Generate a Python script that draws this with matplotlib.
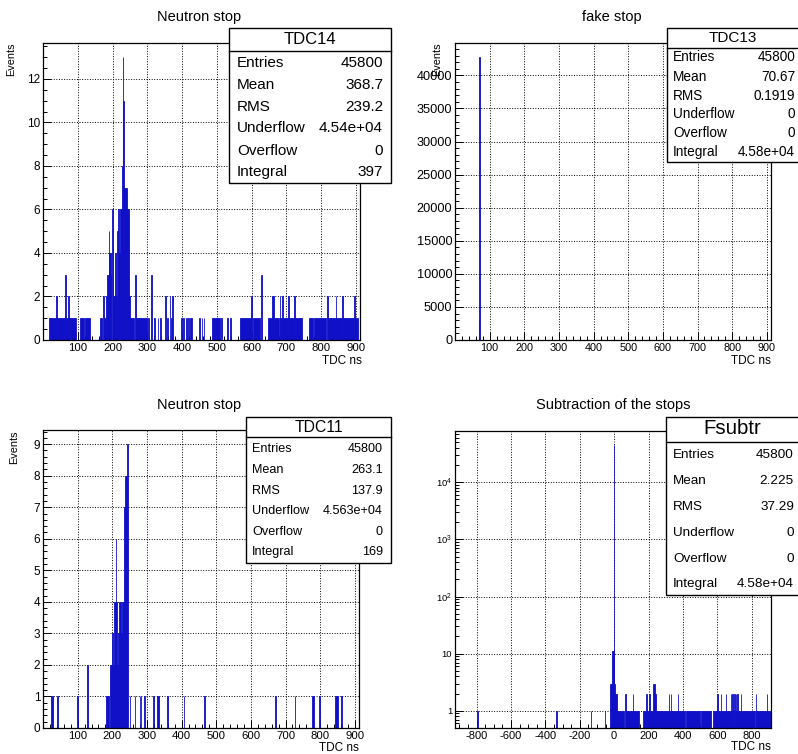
import numpy as np
import matplotlib.pyplot as plt
from matplotlib.patches import Rectangle
from matplotlib.lines import Line2D
from matplotlib.ticker import MultipleLocator, FixedLocator, LogLocator, NullFormatter

plt.rcParams['font.family'] = ['Liberation Sans', 'DejaVu Sans']
plt.rcParams['mathtext.fontset'] = 'custom'
plt.rcParams['mathtext.rm'] = 'Liberation Sans'
plt.rcParams['axes.unicode_minus'] = False

W, H = 798, 754
BLUE = '#1010c8'

# ---- data: histogram segments (left edge ns, right edge ns, counts) ----
# TDC14, "Neutron stop"
tdc14_lo = [17, 38, 41, 63, 65, 72, 74, 106, 120, 164, 174, 176, 180, 185, 189, 191, 195,
            198, 202, 207, 211, 214, 217, 220, 222, 226, 229, 231, 233, 241, 246, 249, 264,
            268, 302, 312, 318, 330, 336, 352, 356, 364, 368, 372, 398, 404, 410, 418, 424,
            450, 456, 462, 486, 502, 512, 530, 538, 568, 599, 603, 627, 648, 660, 664, 681,
            683, 688, 690, 706, 708, 722, 724, 765, 780, 818, 820, 842, 844, 861, 863, 896, 898]
tdc14_hi = [36, 41, 62, 65, 72, 74, 95, 118, 136, 170, 176, 180, 185, 189, 191, 195, 197,
            202, 207, 211, 214, 217, 220, 222, 226, 229, 231, 233, 241, 246, 249, 262, 268,
            300, 304, 314, 322, 332, 340, 354, 360, 366, 370, 374, 400, 406, 414, 420, 428,
            452, 458, 464, 500, 510, 516, 532, 541, 598, 601, 625, 629, 660, 664, 680, 683,
            688, 690, 706, 708, 722, 724, 745, 778, 814, 820, 842, 844, 860, 863, 896, 898, 906]
tdc14_n = [1, 2, 1, 3, 1, 2, 1, 1, 1, 1, 2, 1, 2, 3, 5, 4, 3,
           6, 2, 4, 2, 5, 6, 4, 6, 8, 13, 11, 7, 6, 2, 1, 3,
           1, 1, 3, 1, 1, 1, 2, 1, 2, 1, 2, 1, 1, 1, 1, 1,
           1, 1, 1, 1, 1, 1, 1, 1, 1, 2, 1, 3, 1, 2, 1, 2,
           1, 2, 1, 2, 1, 2, 1, 1, 1, 2, 1, 2, 1, 2, 1, 2, 1]

# TDC13, "fake stop"
tdc13_lo = [69, 70]
tdc13_hi = [70, 71]
tdc13_n = [3050, 42750]

# TDC11, "Neutron stop"
tdc11_lo = [24, 40, 98, 128, 182, 194, 199, 202, 204, 210, 212, 214, 217, 219, 225, 229, 234,
            238, 241, 250, 265, 279, 282, 291, 318, 330, 359, 406, 465, 669, 726, 776, 797,
            844, 860]
tdc11_hi = [28, 42, 100, 130, 190, 199, 202, 204, 210, 212, 214, 217, 219, 225, 229, 234, 238,
            241, 246, 251, 266, 281, 284, 294, 319, 334, 360, 408, 467, 673, 728, 782, 799,
            850, 862]
tdc11_n = [1, 1, 1, 2, 1, 2, 3, 2, 4, 6, 4, 2, 3, 4, 3, 4, 7,
           8, 9, 1, 1, 1, 1, 1, 1, 1, 1, 1, 1, 1, 1, 1, 1,
           1, 1]

# Fsubtr, "Subtraction of the stops"
fsub_lo = [-796, -336, -136, -54, -24, -12, -1, 1, 8, 14, 66, 68, 110, 112, 168, 184, 192,
           202, 206, 226, 236, 240, 244, 304, 318, 320, 328, 330, 370, 372, 418, 452, 505,
           572, 600, 602, 620, 622, 648, 650, 678, 680, 688, 690, 698, 700, 706, 708, 716,
           718, 736, 738, 822, 824, 888, 890]
fsub_hi = [-792, -332, -134, -52, -12, -1, 1, 8, 14, 60, 68, 110, 112, 146, 184, 192, 202,
           206, 226, 236, 240, 244, 300, 318, 320, 328, 330, 370, 372, 410, 450, 500, 562,
           600, 602, 620, 622, 648, 650, 678, 680, 688, 690, 698, 700, 706, 708, 716, 718,
           736, 738, 820, 824, 888, 890, 912]
fsub_n = [1, 1, 1, 1, 3, 11, 45600, 3, 2, 1, 2, 1, 2, 1, 1, 2, 1,
          2, 1, 3, 1, 2, 1, 1, 2, 1, 2, 1, 2, 1, 1, 1, 1,
          1, 2, 1, 2, 1, 2, 1, 2, 1, 2, 1, 2, 1, 2, 1, 2,
          1, 2, 1, 2, 1, 2, 1]

stats14 = ['TDC14', ('Entries', '45800'), ('Mean', '368.7'), ('RMS', '239.2'),
           ('Underflow', '4.54e+04'), ('Overflow', '0'), ('Integral', '397')]
stats13 = ['TDC13', ('Entries', '45800'), ('Mean', '70.67'), ('RMS', '0.1919'),
           ('Underflow', '0'), ('Overflow', '0'), ('Integral', '4.58e+04')]
stats11 = ['TDC11', ('Entries', '45800'), ('Mean', '263.1'), ('RMS', '137.9'),
           ('Underflow', '4.563e+04'), ('Overflow', '0'), ('Integral', '169')]
statsfs = ['Fsubtr', ('Entries', '45800'), ('Mean', '2.225'), ('RMS', '37.29'),
           ('Underflow', '0'), ('Overflow', '0'), ('Integral', '4.58e+04')]

fig = plt.figure(figsize=(W / 100, H / 100), dpi=100)


def px_axes(x0, y0, x1, y1):
    return fig.add_axes([x0 / W, 1 - y1 / H, (x1 - x0) / W, (y1 - y0) / H])


def ftext(x, y, s, **kw):
    fig.text(x / W, 1 - y / H, s, **kw)


def draw_hist(ax, lo, hi, n, bottom=0):
    lo = np.array(lo, float)
    hi = np.array(hi, float)
    ax.bar(lo, np.array(n, float) - bottom, width=hi - lo, bottom=bottom, align='edge',
           color=BLUE, edgecolor=BLUE, linewidth=0.6)


def style(ax, xsize=8.2, ysize=8.5):
    ax.grid(True, which='major', linestyle=':', color='black', linewidth=0.7)
    ax.set_axisbelow(True)
    ax.tick_params(which='both', direction='in', pad=2, width=0.7)
    ax.tick_params(axis='x', labelsize=xsize)
    ax.tick_params(axis='y', labelsize=ysize)
    ax.tick_params(which='major', length=6)
    ax.tick_params(which='minor', length=3)
    for sp in ax.spines.values():
        sp.set_linewidth(0.9)


def stats_box(x0, y0, x1, y1, ysep, ytitle, rows_y, xl, xr, info, tsize, rsize):
    fig.add_artist(Rectangle((x0 / W, 1 - y1 / H), (x1 - x0) / W, (y1 - y0) / H,
                             transform=fig.transFigure, facecolor='white',
                             edgecolor='black', linewidth=1.0, zorder=5))
    fig.add_artist(Line2D([x0 / W, x1 / W], [1 - ysep / H, 1 - ysep / H],
                          transform=fig.transFigure, color='black', linewidth=1.0, zorder=6))
    ftext((x0 + min(x1, W)) / 2, ytitle, info[0], ha='center', va='center',
          fontsize=tsize, zorder=7)
    for (lab, val), yy in zip(info[1:], rows_y):
        ftext(xl, yy, lab, ha='left', va='center', fontsize=rsize, zorder=7)
        ftext(xr, yy, val, ha='right', va='center', fontsize=rsize, zorder=7)


# ---- panel 1 ----
ax1 = px_axes(43, 43, 360, 340)
draw_hist(ax1, tdc14_lo, tdc14_hi, tdc14_n)
ax1.set_xlim(0, 912)
ax1.set_ylim(0, 13.65)
ax1.xaxis.set_major_locator(FixedLocator(range(100, 1000, 100)))
ax1.xaxis.set_minor_locator(MultipleLocator(20))
ax1.yaxis.set_major_locator(MultipleLocator(2))
ax1.yaxis.set_minor_locator(MultipleLocator(0.5))
style(ax1)
ax1.set_ylabel('Events', loc='top', fontsize=7.8)
ax1.yaxis.set_label_coords(-0.085, 1.0)
ax1.set_xlabel('TDC ns', loc='right', fontsize=8.5)
ax1.xaxis.set_label_coords(1.006, -0.05)
ftext(199, 17, 'Neutron stop', ha='center', va='center', fontsize=10.5)
stats_box(229, 28, 391, 183, 51, 40, [63, 85, 107, 128, 151, 172], 237, 383,
          stats14, 12, 11)

# ---- panel 2 ----
ax2 = px_axes(455, 43, 771, 340)
draw_hist(ax2, tdc13_lo, tdc13_hi, tdc13_n)
ax2.set_xlim(0, 912)
ax2.set_ylim(0, 44900)
ax2.xaxis.set_major_locator(FixedLocator(range(100, 1000, 100)))
ax2.xaxis.set_minor_locator(MultipleLocator(20))
ax2.yaxis.set_major_locator(MultipleLocator(5000))
ax2.yaxis.set_minor_locator(MultipleLocator(1000))
style(ax2, xsize=7.8, ysize=9.2)
ax2.set_ylabel('Events', loc='top', fontsize=7.8)
ax2.yaxis.set_label_coords(-0.04, 1.0)
ax2.set_xlabel('TDC ns', loc='right', fontsize=8.5)
ax2.xaxis.set_label_coords(1.0, -0.05)
ftext(612, 17, 'fake stop', ha='center', va='center', fontsize=10.5)
stats_box(667, 28, 805, 162, 48, 38, [57, 77, 96, 114, 133, 152], 673, 795,
          stats13, 11, 9.8)

# ---- panel 3 ----
ax3 = px_axes(43, 430, 359, 728)
draw_hist(ax3, tdc11_lo, tdc11_hi, tdc11_n)
ax3.set_xlim(0, 912)
ax3.set_ylim(0, 9.45)
ax3.xaxis.set_major_locator(FixedLocator(range(100, 1000, 100)))
ax3.xaxis.set_minor_locator(MultipleLocator(20))
ax3.yaxis.set_major_locator(MultipleLocator(1))
ax3.yaxis.set_minor_locator(MultipleLocator(0.2))
style(ax3)
ax3.set_ylabel('Events', loc='top', fontsize=7.8)
ax3.yaxis.set_label_coords(-0.075, 1.0)
ax3.set_xlabel('TDC ns', loc='right', fontsize=8.5)
ax3.xaxis.set_label_coords(1.0, -0.047)
ftext(199, 405, 'Neutron stop', ha='center', va='center', fontsize=10.5)
stats_box(246, 417, 391, 563, 437, 427, [449, 470, 491, 511, 532, 552], 252, 383,
          stats11, 11.3, 9.1)

# ---- panel 4 ----
ax4 = px_axes(455, 431, 771, 728)
ax4.set_yscale('log')
draw_hist(ax4, fsub_lo, fsub_hi, fsub_n, bottom=0.1)
ax4.set_xlim(-925, 912)
ax4.set_ylim(0.5, 79000)
ax4.xaxis.set_major_locator(FixedLocator(range(-800, 1000, 200)))
ax4.xaxis.set_minor_locator(MultipleLocator(50))
ax4.set_yticks([1, 10, 100, 1000, 10000],
               labels=['1', '10', '$10^{2}$', '$10^{3}$', '$10^{4}$'])
ax4.yaxis.set_minor_locator(LogLocator(base=10, subs=np.arange(2, 10)))
ax4.yaxis.set_minor_formatter(NullFormatter())
style(ax4, xsize=8.0, ysize=6.8)
ax4.set_xlabel('TDC ns', loc='right', fontsize=8.5)
ax4.xaxis.set_label_coords(1.0, -0.044)
ftext(613, 405, 'Subtraction of the stops', ha='center', va='center', fontsize=10.5)
stats_box(666, 417, 805, 595, 442, 429, [455, 481, 507, 533, 559, 584], 673, 794,
          statsfs, 14.7, 9.7)

fig.savefig('out.png', dpi=100)
